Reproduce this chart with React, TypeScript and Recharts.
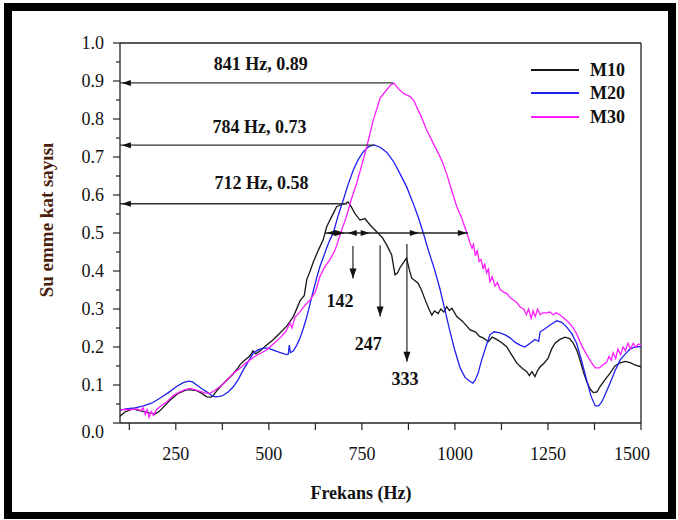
import React from 'react';
import { LineChart, Line, XAxis, YAxis, ReferenceLine, ReferenceDot } from 'recharts';

// ---------- data ----------
const m10Freq = [100, 115, 135, 150, 165, 181, 195, 205, 220, 234, 255, 270, 279, 290, 306, 320, 333, 345, 351, 360, 372, 387, 400, 415, 422, 435, 447, 454, 457, 465, 480, 494, 510, 530, 548, 566, 584, 595, 602, 611, 620, 633, 646, 655, 664, 675, 682, 695, 705, 713, 722, 732, 745, 758, 772, 793, 805, 817, 830, 839, 846, 852, 860, 870, 877, 884, 892, 901, 910, 920, 930, 938, 945, 955, 962, 970, 978, 985, 992, 1005, 1020, 1041, 1055, 1066, 1076, 1090, 1100, 1112, 1125, 1139, 1152, 1166, 1180, 1193, 1200, 1207, 1215, 1222, 1229, 1240, 1250, 1260, 1269, 1282, 1296, 1308, 1318, 1328, 1336, 1345, 1354, 1363, 1372, 1382, 1390, 1404, 1417, 1430, 1444, 1458, 1471, 1485, 1500];
const m10Values = [0.018, 0.03, 0.037, 0.033, 0.03, 0.026, 0.024, 0.03, 0.045, 0.06, 0.077, 0.084, 0.087, 0.087, 0.085, 0.078, 0.069, 0.068, 0.073, 0.085, 0.098, 0.113, 0.125, 0.142, 0.153, 0.165, 0.175, 0.184, 0.19, 0.182, 0.193, 0.205, 0.218, 0.237, 0.255, 0.28, 0.322, 0.335, 0.378, 0.4, 0.425, 0.455, 0.482, 0.515, 0.534, 0.555, 0.569, 0.575, 0.577, 0.582, 0.568, 0.55, 0.534, 0.538, 0.521, 0.5, 0.488, 0.468, 0.442, 0.39, 0.395, 0.408, 0.42, 0.434, 0.405, 0.381, 0.375, 0.368, 0.35, 0.324, 0.3, 0.284, 0.295, 0.288, 0.3, 0.292, 0.306, 0.296, 0.302, 0.28, 0.268, 0.245, 0.24, 0.228, 0.224, 0.214, 0.226, 0.22, 0.212, 0.201, 0.18, 0.158, 0.145, 0.135, 0.125, 0.135, 0.122, 0.138, 0.148, 0.158, 0.17, 0.195, 0.21, 0.22, 0.226, 0.222, 0.21, 0.19, 0.166, 0.135, 0.109, 0.09, 0.08, 0.082, 0.096, 0.115, 0.131, 0.15, 0.158, 0.162, 0.159, 0.152, 0.148];

const m20Freq = [100, 120, 140, 163, 185, 207, 230, 252, 270, 285, 295, 306, 320, 333, 345, 355, 368, 378, 392, 405, 418, 431, 445, 458, 472, 485, 498, 512, 525, 535, 548, 552, 555, 558, 566, 575, 584, 593, 602, 611, 620, 628, 637, 646, 655, 664, 673, 686, 700, 713, 727, 740, 754, 768, 783, 800, 817, 835, 852, 870, 888, 902, 915, 930, 945, 960, 975, 987, 1000, 1014, 1027, 1041, 1048, 1054, 1062, 1072, 1083, 1094, 1105, 1121, 1135, 1148, 1162, 1175, 1188, 1202, 1215, 1225, 1229, 1242, 1256, 1274, 1287, 1300, 1314, 1327, 1340, 1354, 1366, 1377, 1386, 1395, 1406, 1417, 1430, 1444, 1458, 1471, 1485, 1500];
const m20Values = [0.034, 0.038, 0.04, 0.045, 0.052, 0.065, 0.08, 0.096, 0.106, 0.11, 0.108, 0.1, 0.09, 0.082, 0.073, 0.069, 0.07, 0.073, 0.083, 0.096, 0.115, 0.139, 0.162, 0.184, 0.193, 0.197, 0.197, 0.192, 0.187, 0.184, 0.18, 0.181, 0.205, 0.185, 0.19, 0.205, 0.224, 0.25, 0.28, 0.315, 0.35, 0.38, 0.411, 0.435, 0.46, 0.482, 0.5, 0.545, 0.587, 0.628, 0.666, 0.693, 0.714, 0.727, 0.732, 0.725, 0.712, 0.688, 0.657, 0.622, 0.578, 0.54, 0.5, 0.45, 0.405, 0.352, 0.29, 0.24, 0.19, 0.145, 0.12, 0.109, 0.105, 0.112, 0.13, 0.166, 0.2, 0.232, 0.24, 0.237, 0.232, 0.224, 0.212, 0.205, 0.2, 0.21, 0.22, 0.215, 0.24, 0.248, 0.258, 0.269, 0.265, 0.253, 0.235, 0.21, 0.165, 0.113, 0.07, 0.045, 0.045, 0.056, 0.08, 0.105, 0.137, 0.166, 0.182, 0.195, 0.2, 0.201];

const m30Freq = [100, 115, 130, 145, 155, 162, 168, 173, 178, 184, 190, 198, 210, 225, 243, 261, 275, 288, 300, 315, 328, 342, 355, 369, 385, 405, 420, 435, 449, 462, 480, 494, 512, 530, 545, 557, 562, 570, 584, 597, 611, 625, 637, 650, 664, 678, 693, 709, 722, 736, 750, 763, 780, 799, 815, 828, 836, 848, 861, 872, 880, 890, 897, 910, 924, 937, 951, 965, 978, 992, 1005, 1018, 1032, 1040, 1046, 1050, 1055, 1060, 1065, 1070, 1076, 1080, 1085, 1090, 1094, 1100, 1108, 1114, 1121, 1130, 1140, 1148, 1160, 1168, 1175, 1185, 1192, 1198, 1205, 1210, 1216, 1222, 1229, 1236, 1245, 1255, 1264, 1272, 1282, 1290, 1300, 1310, 1318, 1327, 1340, 1354, 1366, 1377, 1388, 1398, 1408, 1414, 1420, 1425, 1432, 1438, 1445, 1452, 1458, 1465, 1472, 1479, 1486, 1493, 1500];
const m30Values = [0.034, 0.036, 0.035, 0.037, 0.033, 0.04, 0.022, 0.035, 0.015, 0.03, 0.02, 0.035, 0.045, 0.055, 0.072, 0.082, 0.088, 0.091, 0.088, 0.083, 0.079, 0.078, 0.086, 0.096, 0.11, 0.131, 0.142, 0.155, 0.166, 0.175, 0.185, 0.192, 0.208, 0.224, 0.24, 0.263, 0.25, 0.278, 0.293, 0.31, 0.324, 0.345, 0.385, 0.41, 0.43, 0.455, 0.5, 0.545, 0.59, 0.631, 0.68, 0.727, 0.795, 0.855, 0.875, 0.89, 0.894, 0.88, 0.868, 0.862, 0.859, 0.848, 0.832, 0.805, 0.771, 0.745, 0.718, 0.69, 0.655, 0.61, 0.569, 0.54, 0.5, 0.475, 0.46, 0.47, 0.44, 0.455, 0.425, 0.43, 0.405, 0.42, 0.395, 0.405, 0.37, 0.385, 0.36, 0.37, 0.352, 0.345, 0.34, 0.33, 0.322, 0.315, 0.305, 0.3, 0.285, 0.3, 0.275, 0.295, 0.28, 0.3, 0.285, 0.29, 0.29, 0.292, 0.285, 0.29, 0.285, 0.278, 0.27, 0.26, 0.25, 0.235, 0.205, 0.18, 0.16, 0.145, 0.145, 0.153, 0.16, 0.175, 0.165, 0.185, 0.17, 0.195, 0.18, 0.2, 0.19, 0.21, 0.195, 0.21, 0.2, 0.208, 0.205];

const seriesNames = ['M10', 'M20', 'M30'];
const seriesColors = ['#161616', '#1f1ff0', '#ff1cff'];

const xTicks = [125, 250, 375, 500, 625, 750, 875, 1000, 1125, 1250, 1375, 1500];
const yTicks = [0, 0.05, 0.1, 0.15, 0.2, 0.25, 0.3, 0.35, 0.4, 0.45, 0.5, 0.55, 0.6, 0.65, 0.7, 0.75, 0.8, 0.85, 0.9, 0.95, 1.0];

// peak annotations
const peakNotes = ['841 Hz, 0.89', '784 Hz, 0.73', '712 Hz, 0.58'];
const peakFreqs = [834, 783, 710];
const peakLevels = [0.895, 0.731, 0.577];
const noteFreqs = [478, 475, 480];
const noteLevels = [0.945, 0.779, 0.632];

// half-level bandwidth line
const halfLevel = 0.5;
const halfStart = 651;
const halfEnd = 1035;
const halfMarkFreqs = [656, 703, 712, 771, 903, 1032];
const halfMarkDirs = ['left', 'right', 'left', 'right', 'right', 'right'];

// bandwidth arrows
const widthLabels = ['142', '247', '333'];
const widthArrowFreqs = [726, 799, 871];
const widthArrowTops = [0.466, 0.468, 0.471];
const widthArrowBottoms = [0.38, 0.28, 0.161];
const widthLabelFreqs = [691, 767, 866];
const widthLabelLevels = [0.322, 0.208, 0.116];

const toData = (f: number[], v: number[]) => f.map((x, i) => ({ f: x, v: v[i] }));
const seriesData = [toData(m10Freq, m10Values), toData(m20Freq, m20Values), toData(m30Freq, m30Values)];

const SERIF = '"Liberation Serif", "Times New Roman", serif';
const AXIS = '#222';

const XTick = (props: any) => {
  const { x, y, payload } = props;
  const v = payload.value;
  const major = v % 250 === 0;
  return (
    <g>
      <line x1={x} y1={y} x2={x} y2={y + 7} stroke={AXIS} strokeWidth={1.2} />
      {major && (
        <text x={x + (v === 1500 ? -9 : 0)} y={y + 31} textAnchor="middle" dominantBaseline="central"
          fontFamily={SERIF} fontSize={18} fill="#111">{v}</text>
      )}
    </g>
  );
};

const YTick = (props: any) => {
  const { x, y, payload } = props;
  const v = payload.value;
  const major = Math.round(v * 100) % 10 === 0;
  return (
    <g>
      <line x1={x - (major ? 7 : 4)} y1={y} x2={x} y2={y} stroke={AXIS} strokeWidth={1.2} />
      {major && (
        <text x={x - 16} y={y + (v === 0 ? 9 : 0)} textAnchor="end" dominantBaseline="central"
          fontFamily={SERIF} fontSize={18} fill="#111">{v.toFixed(1)}</text>
      )}
    </g>
  );
};

const leftArrow = (p: any) => (
  <polygon points={`${p.cx},${p.cy} ${p.cx + 9},${p.cy - 3} ${p.cx + 9},${p.cy + 3}`} fill="#111" />
);
const rightArrow = (p: any) => (
  <polygon points={`${p.cx},${p.cy} ${p.cx - 9},${p.cy - 3} ${p.cx - 9},${p.cy + 3}`} fill="#111" />
);
const downArrow = (p: any) => (
  <polygon points={`${p.cx},${p.cy} ${p.cx - 3.5},${p.cy - 10} ${p.cx + 3.5},${p.cy - 10}`} fill="#111" />
);
const textShape = (txt: string, size: number) => (p: any) => (
  <text x={p.cx} y={p.cy} textAnchor="middle" dominantBaseline="central" fontFamily={SERIF}
    fontWeight="bold" fontSize={size} fill="#111">{txt}</text>
);

export default function App() {
  return (
    <div style={{ position: 'absolute', left: 0, top: 0, width: 678, height: 520, background: '#fff', overflow: 'hidden' }}>
      <div style={{ position: 'absolute', left: 4, top: 3, width: 672, height: 516, border: '8px solid #000', borderBottomWidth: 7, boxSizing: 'border-box', pointerEvents: 'none' }} />
      <div style={{ position: 'absolute', left: 0, top: 0 }}>
        <LineChart width={678} height={520} margin={{ top: 43, right: 37, bottom: 57, left: 60 }}>
          <XAxis dataKey="f" type="number" domain={[100, 1500]} allowDataOverflow ticks={xTicks} interval={0}
            tick={<XTick />} tickLine={false} tickSize={0} tickMargin={0} height={40}
            axisLine={{ stroke: AXIS, strokeWidth: 1.3 }} />
          <YAxis dataKey="v" type="number" domain={[0, 1]} allowDataOverflow ticks={yTicks} interval={0}
            tick={<YTick />} tickLine={false} tickSize={0} tickMargin={0} width={60}
            axisLine={{ stroke: AXIS, strokeWidth: 1.3 }} />
          <ReferenceLine y={1} stroke={AXIS} strokeWidth={1.3} />
          <ReferenceLine x={1500} stroke={AXIS} strokeWidth={1.3} />

          {seriesData.map((d, i) => (
            <Line key={seriesNames[i]} data={d} dataKey="v" name={seriesNames[i]} type="linear"
              stroke={seriesColors[i]} strokeWidth={1.3} dot={false} activeDot={false}
              isAnimationActive={false} />
          ))}

          {peakNotes.map((n, i) => (
            <ReferenceLine key={'pl' + i} segment={[{ x: 100, y: peakLevels[i] }, { x: peakFreqs[i], y: peakLevels[i] }]}
              stroke="#333" strokeWidth={1.3} ifOverflow="visible" />
          ))}
          {peakNotes.map((n, i) => (
            <ReferenceDot key={'pa' + i} x={105} y={peakLevels[i]} shape={leftArrow} ifOverflow="visible" />
          ))}
          {peakNotes.map((n, i) => (
            <ReferenceDot key={'pt' + i} x={noteFreqs[i]} y={noteLevels[i]} shape={textShape(n, 18)} ifOverflow="visible" />
          ))}

          <ReferenceLine segment={[{ x: halfStart, y: halfLevel }, { x: halfEnd, y: halfLevel }]} stroke="#222" strokeWidth={1.3} />
          {halfMarkFreqs.map((f, i) => (
            <ReferenceDot key={'hm' + i} x={f} y={halfLevel} shape={halfMarkDirs[i] === 'left' ? leftArrow : rightArrow} ifOverflow="visible" />
          ))}

          {widthLabels.map((l, i) => (
            <ReferenceLine key={'wl' + i} segment={[{ x: widthArrowFreqs[i], y: widthArrowTops[i] }, { x: widthArrowFreqs[i], y: widthArrowBottoms[i] }]}
              stroke="#222" strokeWidth={1.2} />
          ))}
          {widthLabels.map((l, i) => (
            <ReferenceDot key={'wa' + i} x={widthArrowFreqs[i]} y={widthArrowBottoms[i]} shape={downArrow} ifOverflow="visible" />
          ))}
          {widthLabels.map((l, i) => (
            <ReferenceDot key={'wt' + i} x={widthLabelFreqs[i]} y={widthLabelLevels[i]} shape={textShape(l, 18)} ifOverflow="visible" />
          ))}
        </LineChart>
      </div>

      {/* legend */}
      <div style={{ position: 'absolute', left: 531, top: 58 }}>
        {seriesNames.map((n, i) => (
          <div key={n} style={{ display: 'flex', alignItems: 'center', height: 23.5 }}>
            <svg width={48} height={4} style={{ display: 'block' }}>
              <line x1={0} y1={2} x2={48} y2={2} stroke={seriesColors[i]} strokeWidth={2} />
            </svg>
            <span style={{ marginLeft: 11, fontFamily: SERIF, fontWeight: 'bold', fontSize: 18, color: '#111', lineHeight: '20px' }}>{n}</span>
          </div>
        ))}
      </div>

      {/* axis titles */}
      <div style={{ position: 'absolute', left: 0, top: 482, width: 722, textAlign: 'center', fontFamily: SERIF, fontWeight: 'bold', fontSize: 18, color: '#111', lineHeight: '22px' }}>
        Frekans (Hz)
      </div>
      <div style={{ position: 'absolute', left: 47, top: 220, transform: 'translate(-50%, -50%) rotate(-90deg)', whiteSpace: 'nowrap', fontFamily: SERIF, fontWeight: 'bold', fontSize: 19, color: '#4a1e0c', lineHeight: '20px' }}>
        Su emme kat sayısı
      </div>
    </div>
  );
}
